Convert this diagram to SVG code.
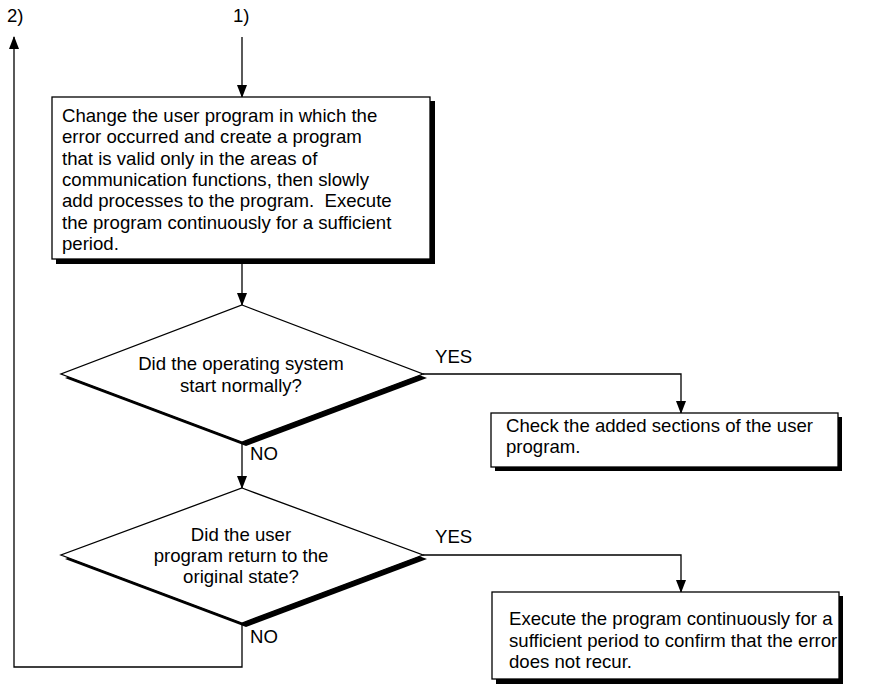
<svg xmlns="http://www.w3.org/2000/svg" width="871" height="689" viewBox="0 0 871 689">
<style>
text{font-family:"Liberation Sans",Arial,sans-serif;font-size:18.6px;fill:#000;white-space:pre}
.box{fill:#fff;stroke:#000;stroke-width:1.3}
.shadow{fill:#000}
.ln{fill:none;stroke:#000;stroke-width:1.3}
.c{text-anchor:middle}
</style>
<defs>
<marker id="arr" markerWidth="13" markerHeight="10" refX="12" refY="5" orient="auto" markerUnits="userSpaceOnUse" viewBox="0 0 13 10">
<path d="M0,0 L13,5 L0,10 Z" fill="#000"/>
</marker>
</defs>
<rect width="871" height="689" fill="#fff"/>
<g id="connectors">
<path class="ln" d="M242,37 V97" marker-end="url(#arr)"/>
<path class="ln" d="M242,264 V305" marker-end="url(#arr)"/>
<path class="ln" d="M242,442 V488" marker-end="url(#arr)"/>
<path class="ln" d="M423,374 H681 V413" marker-end="url(#arr)"/>
<path class="ln" d="M423,555 H681 V592" marker-end="url(#arr)"/>
<path class="ln" d="M242,623 V667 H14 V37" marker-end="url(#arr)"/>
<text x="435" y="363">YES</text>
<text x="435" y="543">YES</text>
<text x="250" y="460">NO</text>
<text x="250" y="643">NO</text>
<text x="233" y="22">1)</text>
<text x="7" y="22">2)</text>
</g>
<g id="box1">
<rect class="shadow" x="56" y="101" width="379" height="163"/>
<rect class="box" x="52" y="97" width="378" height="162"/>
<text x="62" y="122">Change the user program in which the</text>
<text x="62" y="143.3">error occurred and create a program</text>
<text x="62" y="164.6">that is valid only in the areas of</text>
<text x="62" y="185.9">communication functions, then slowly</text>
<text x="62" y="207.2">add processes to the program.  Execute</text>
<text x="62" y="228.5">the program continuously for a sufficient</text>
<text x="62" y="249.8">period.</text>
</g>
<g id="decision1">
<polygon class="shadow" points="246,309 427,378 246,446 65,378"/>
<polygon class="box" points="242,305 423,374 242,442 61,374"/>
<text class="c" x="241" y="370">Did the operating system</text>
<text class="c" x="241" y="392">start normally?</text>
</g>
<g id="box2">
<rect class="shadow" x="495" y="417" width="347" height="54"/>
<rect class="box" x="491" y="413" width="347" height="54"/>
<text x="506" y="432">Check the added sections of the user</text>
<text x="506" y="453">program.</text>
</g>
<g id="decision2">
<polygon class="shadow" points="246,492 427,559 246,627 65,559"/>
<polygon class="box" points="242,488 423,555 242,623 61,555"/>
<text class="c" x="241" y="541">Did the user</text>
<text class="c" x="241" y="562">program return to the</text>
<text class="c" x="241" y="583">original state?</text>
</g>
<g id="box3">
<rect class="shadow" x="496" y="596" width="347" height="88"/>
<rect class="box" x="492" y="592" width="347" height="87"/>
<text x="509" y="625">Execute the program continuously for a</text>
<text x="509" y="646.5">sufficient period to confirm that the error</text>
<text x="509" y="668">does not recur.</text>
</g>
</svg>
